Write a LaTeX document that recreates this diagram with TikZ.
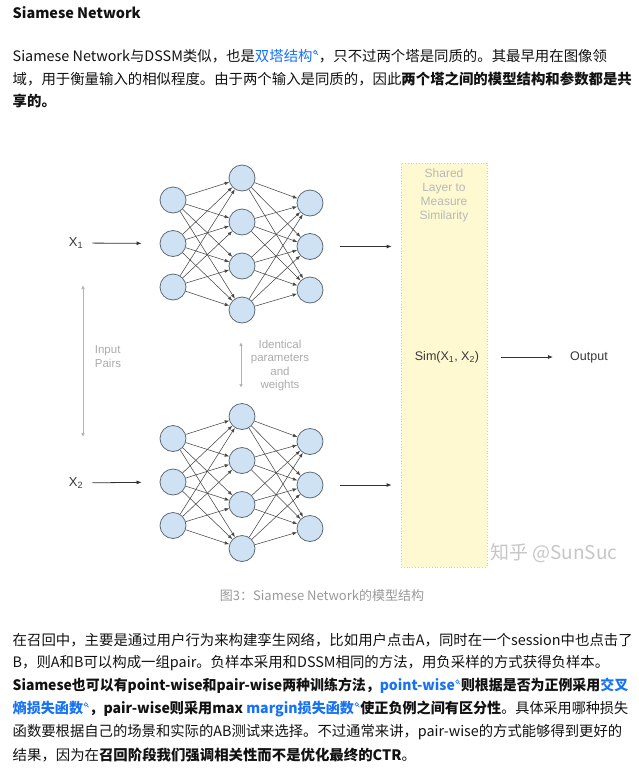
\documentclass[tikz,border=0pt]{standalone}
\usepackage{graphicx}
\usepackage{fontspec}
\setmainfont{Noto Sans CJK SC}
\newfontfamily\diagfont{Liberation Sans}
\usetikzlibrary{arrows.meta,positioning}
\definecolor{linkblue}{HTML}{1772F6}
\definecolor{bodytext}{HTML}{121212}
\definecolor{neuron}{HTML}{CFE2F3}
\definecolor{neuronline}{HTML}{5F6B78}
\definecolor{softgray}{HTML}{ABABAB}
\definecolor{boxfill}{HTML}{FFF9D2}
\definecolor{boxline}{HTML}{E3D083}
\definecolor{capgray}{HTML}{999999}
\definecolor{markgray}{HTML}{C6C6C6}

\newcommand{\lnk}[1]{{\color{linkblue}#1}}
\newcommand{\srchicon}{\kern0.6pt\raisebox{0.42em}{\tikz[x=1pt,y=1pt,line width=0.6pt,linkblue]{\draw (0,0) circle[radius=1.8pt]; \draw (1.3,-1.3) -- (2.8,-2.8);}}\kern0.6pt}
% squeeze a line to the width it has in the reference
\newcommand{\fitline}[2]{\resizebox{#1}{\height}{#2}}

\begin{document}
\begin{tikzpicture}[
    x=1pt, y=-1pt,
    line/.style={anchor=west, inner sep=0pt, font=\fontsize{14.4}{17}\selectfont, text=bodytext},
    neuron/.style={circle, draw=neuronline, fill=neuron, line width=0.8pt, minimum size=26pt, inner sep=0pt},
    link/.style={draw=black!72, line width=0.55pt, -{Latex[length=4.5pt,width=3.5pt]}},
    feed/.style={draw=black!80, line width=0.8pt, -{Latex[length=5pt,width=4pt]}},
    hint/.style={font=\diagfont\fontsize{11.5}{13.6}\selectfont, text=softgray, align=center, inner sep=0pt},
    hintarr/.style={draw=softgray!90, line width=0.8pt, {Latex[length=4pt,width=3.5pt]}-{Latex[length=4pt,width=3.5pt]}},
    diag/.style={font=\diagfont\fontsize{12.5}{14}\selectfont, text=black!78, inner sep=0pt},
    ]
    \useasboundingbox (0,0) rectangle (639,774);

    % text above the figure
    \node[line] (title) at (12.5,12.5) {\textbf{Siamese Network}};
    \node[line] (p1-l1) at (12.5,56) {Siamese Network与DSSM类似，也是\lnk{双塔结构}\srchicon，只不过两个塔是同质的。其最早用在图像领};
    \node[line] (p1-l2) at (12.5,78.5) {域，用于衡量输入的相似程度。由于两个输入是同质的，因此\textbf{两个塔之间的模型结构和参数都是共}};
    \node[line] (p1-l3) at (12.5,100.5) {\textbf{享的。}};

    % the two towers
    \foreach \net/\dy in {t/0, b/238.5} {
        \foreach \i in {1,2,3}
            \node[neuron] (\net-in-\i) at (173, {200+\dy+43.5*(\i-1)}) {};
        \foreach \j in {1,...,4}
            \node[neuron] (\net-hid-\j) at (242, {178+\dy+44*(\j-1)}) {};
        \foreach \k in {1,2,3}
            \node[neuron] (\net-out-\k) at (310, {203+\dy+43.5*(\k-1)}) {};
        \foreach \i in {1,2,3}
            \foreach \j in {1,...,4}
                \draw[link] (\net-in-\i) -- (\net-hid-\j);
        \foreach \j in {1,...,4}
            \foreach \k in {1,2,3}
                \draw[link] (\net-hid-\j) -- (\net-out-\k);
    }

    \node[diag, font=\diagfont\fontsize{13}{15}\selectfont] (x1) at (76,243) {X\textsubscript{1}};
    \node[diag, font=\diagfont\fontsize{13}{15}\selectfont] (x2) at (76,483) {X\textsubscript{2}};
    \draw[feed, shorten <=9pt, shorten >=18pt] (x1) -- (t-in-2);
    \draw[feed, shorten <=9pt, shorten >=18pt] (x2) -- (b-in-2);

    % shared layer
    \node[draw=boxline, fill=boxfill, dotted, line width=0.8pt, minimum width=86pt, minimum height=404pt] (simbox) at (444,365) {};
    \node[hint, text=softgray!85, font=\diagfont\fontsize{12}{13.8}\selectfont, anchor=north] (sharedtxt) at (444,169) {Shared\\Layer to\\Measure\\Similarity};
    \node[diag] (sim) at (447,357) {Sim(X\textsubscript{1}, X\textsubscript{2})};
    \node[diag, anchor=west] (output) at (570,357) {Output};
    \draw[feed, shorten <=22pt, shorten >=17pt] (sim) -- (output);

    \draw[feed, shorten <=17pt, shorten >=9pt] (t-out-2) -- (t-out-2 -| simbox.west);
    \draw[feed, shorten <=17pt, shorten >=9pt] (b-out-2) -- (b-out-2 -| simbox.west);

    % hints between the towers
    \coordinate (pair-top) at (83,285);
    \coordinate (pair-bot) at (83,437);
    \draw[hintarr] (pair-top) -- (pair-bot);
    \node[hint, align=left] (pairtxt) at (108,356.5) {Input\\Pairs};
    \coordinate (same-top) at (241,342);
    \coordinate (same-bot) at (241,388);
    \draw[hintarr] (same-top) -- (same-bot);
    \node[hint] (sametxt) at (280,365.5) {Identical\\parameters\\and\\weights};

    \node[anchor=west, inner sep=0pt, font=\fontsize{19}{21}\selectfont, text=markgray] (mark) at (490,553) {知乎 @SunSuc};
    \node[inner sep=0pt, font=\fontsize{13}{15}\selectfont, text=capgray] (caption) at (322,596) {图3：Siamese Network的模型结构};

    % text below the figure
    \node[line] (p2-l1) at (12.5,640) {在召回中，主要是通过用户行为来构建孪生网络，比如用户点击A，同时在一个session中也点击了};
    \node[line] (p2-l2) at (12.5,663) {B，则A和B可以构成一组pair。负样本采用和DSSM相同的方法，用负采样的方式获得负样本。};
    \node[line] (p2-l3) at (12.5,686) {\fitline{615.5pt}{\textbf{Siamese也可以有point-wise和pair-wise两种训练方法，\lnk{point-wise}\srchicon 则根据是否为正例采用\lnk{交叉}}}};
    \node[line] (p2-l4) at (12.5,709) {\fitline{615.5pt}{\textbf{\lnk{熵损失函数}\srchicon，pair-wise则采用max \lnk{margin损失函数}\srchicon 使正负例之间有区分性}。具体采用哪种损失}};
    \node[line] (p2-l5) at (12.5,732) {\fitline{609.5pt}{函数要根据自己的场景和实际的AB测试来选择。不过通常来讲，pair-wise的方式能够得到更好的}};
    \node[line] (p2-l6) at (12.5,755) {结果，因为在\textbf{召回阶段我们强调相关性而不是优化最终的CTR}。};
\end{tikzpicture}
\end{document}
